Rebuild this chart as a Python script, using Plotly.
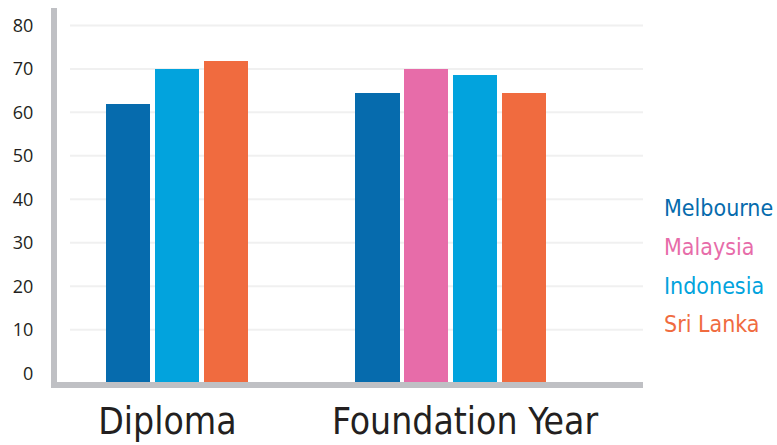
import plotly.graph_objects as go

# Programme groups and campus series
programmes = ["Diploma", "Foundation Year"]
campuses = ["Melbourne", "Malaysia", "Indonesia", "Sri Lanka"]
campus_colors = ["#066bad", "#e76ca9", "#02a3dd", "#f06b3f"]

# Scores per campus for [Diploma, Foundation Year]; None = not offered
melbourne = [62, 64.5]
malaysia = [None, 70]
indonesia = [70, 68.6]
sri_lanka = [71.8, 64.5]
series_values = [melbourne, malaysia, indonesia, sri_lanka]

y_ticks = [0, 10, 20, 30, 40, 50, 60, 70, 80]

# Layout geometry
W, H = 777, 445
M_L, M_R, M_T, M_B = 57, 134, 8, 63
Y_MIN, Y_MAX = -2.0, 84.0
X_MIN, X_MAX = -0.4388, 1.7038
BAR_W = 0.161
BAR_PITCH = 0.178
LABEL_SHIFT = [-0.035, 0.053]
AXIS_GREY = "#bfc0c4"
TEXT_DARK = "#231f20"
NARROW = "DejaVu Sans Condensed, DejaVu Sans, sans-serif"

# Place the bars present in each group side by side, centred on the group
positions = {}
for g in range(len(programmes)):
    present = [s for s in range(len(campuses)) if series_values[s][g] is not None]
    n = len(present)
    for k, s in enumerate(present):
        positions[(s, g)] = g + (k - (n - 1) / 2) * BAR_PITCH

fig = go.Figure()
for s, name in enumerate(campuses):
    xs, ys = [], []
    for g in range(len(programmes)):
        v = series_values[s][g]
        if v is None:
            continue
        xs.append(positions[(s, g)])
        ys.append(v - Y_MIN)
    fig.add_trace(go.Bar(
        x=xs, y=ys, base=Y_MIN, width=BAR_W, name=name,
        marker=dict(color=campus_colors[s], line=dict(width=0)),
        showlegend=False,
    ))

# Light horizontal guides (none at zero)
plot_w = W - M_L - M_R
grid_x0 = (70 - M_L) / plot_w
for t in y_ticks:
    if t == 0:
        continue
    fig.add_shape(type="line", xref="paper", yref="y", x0=grid_x0, x1=1,
                  y0=t, y1=t, line=dict(color="#f0f0f0", width=2), layer="below")

# Campus key as coloured text on the right
plot_h = H - M_T - M_B
key_rows_px = [208, 247, 286, 324]
for s, name in enumerate(campuses):
    fig.add_annotation(
        text=name, xref="paper", yref="paper",
        x=(662 - M_L) / plot_w, y=(H - M_B - key_rows_px[s]) / plot_h,
        xanchor="left", yanchor="middle", showarrow=False,
        font=dict(family=NARROW, size=23, color=campus_colors[s]),
    )

fig.update_layout(
    width=W, height=H,
    margin=dict(l=M_L, r=M_R, t=M_T, b=M_B, pad=0),
    plot_bgcolor="white", paper_bgcolor="white",
    barmode="overlay", bargap=0,
    xaxis=dict(
        range=[X_MIN, X_MAX],
        tickvals=[g + LABEL_SHIFT[g] for g in range(len(programmes))],
        ticktext=programmes,
        showgrid=False, zeroline=False, ticks="",
        showline=True, linewidth=6, linecolor=AXIS_GREY,
        tickfont=dict(family=NARROW, size=37, color=TEXT_DARK),
        ticklabelstandoff=2,
        automargin=False, fixedrange=True,
    ),
    yaxis=dict(
        range=[Y_MIN, Y_MAX],
        tickvals=y_ticks,
        showgrid=False, zeroline=False, ticks="",
        showline=True, linewidth=6, linecolor=AXIS_GREY,
        tickfont=dict(family="Open Sans, sans-serif", size=18, color=TEXT_DARK),
        ticklabelstandoff=14,
        automargin=False, fixedrange=True,
    ),
)

fig.write_html("out.html")
